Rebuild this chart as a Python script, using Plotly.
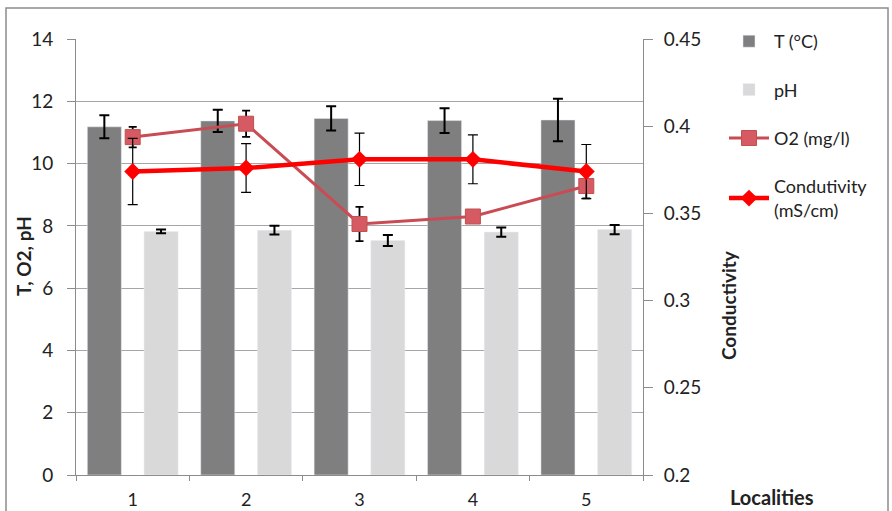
import plotly.graph_objects as go

localities = ["1", "2", "3", "4", "5"]
temp = [11.18, 11.37, 11.45, 11.38, 11.40]
temp_err = [0.37, 0.36, 0.39, 0.40, 0.68]
ph = [7.82, 7.86, 7.53, 7.80, 7.88]
ph_err = [0.06, 0.14, 0.18, 0.15, 0.15]
o2 = [10.85, 11.28, 8.06, 8.30, 9.28]
o2_err = [0.33, 0.42, 0.55, 0.12, 0.40]
cond = [0.374, 0.376, 0.381, 0.381, 0.374]
cond_err = [0.019, 0.014, 0.015, 0.014, 0.0155]

left_ticks = [0, 2, 4, 6, 8, 10, 12, 14]
right_ticks = [0.2, 0.25, 0.3, 0.35, 0.4, 0.45]

FONT = "Lato, 'Open Sans', sans-serif"
TXT = "#222222"
L, R, T, B = 76, 643, 39, 475
PW, PH = R - L, B - T

fig = go.Figure()
fig.add_trace(go.Bar(
    x=localities, y=temp, name="T (°C)", marker_color="#7f7f7f",
    error_y=dict(type="data", array=temp_err, color="black", thickness=2, width=5),
    legendgroup="a", offsetgroup="a"))
fig.add_trace(go.Bar(
    x=localities, y=ph, name="pH", marker_color="#d9d9d9",
    error_y=dict(type="data", array=ph_err, color="black", thickness=2, width=5),
    legendgroup="b", offsetgroup="b"))
fig.add_trace(go.Scatter(
    x=localities, y=o2, name="O2 (mg/l)", mode="lines+markers",
    line=dict(color="#c94c55", width=3),
    marker=dict(symbol="square", size=15, color="#d65a64", line=dict(color="#c0504d", width=1)),
    error_y=dict(type="data", array=o2_err, color="black", thickness=1.8, width=4),
    legendgroup="c"))
fig.add_trace(go.Scatter(
    x=localities, y=cond, name="Condutivity<br>(mS/cm)", mode="lines+markers", yaxis="y2",
    line=dict(color="#ff0000", width=4.5),
    marker=dict(symbol="diamond", size=13, color="#ff0000"),
    error_y=dict(type="data", array=cond_err, color="black", thickness=1.2, width=5),
    legendgroup="d"))

fig.update_layout(
    width=892, height=511,
    margin=dict(l=L, r=892 - R, t=T, b=511 - B),
    paper_bgcolor="white", plot_bgcolor="white",
    font=dict(family=FONT, size=18, color=TXT),
    barmode="group", bargap=0.0, bargroupgap=0.4,
    showlegend=True,
    legend=dict(x=(724 - L) / PW, y=(B - 23) / PH, xanchor="left", yanchor="top",
                tracegroupgap=22, font=dict(size=18, color=TXT),
                bgcolor="rgba(0,0,0,0)", itemwidth=40),
    xaxis=dict(type="category", showgrid=False, showline=True, linecolor="#8c8c8c",
               linewidth=1, ticks="outside", ticklen=5, tickcolor="#8c8c8c",
               tickson="boundaries", tickfont=dict(size=18, color=TXT),
               ticklabelstandoff=8, automargin=False),
    yaxis=dict(range=[0, 14], tickvals=left_ticks, showgrid=True, gridcolor="#a6a6a6",
               gridwidth=1, showline=True, linecolor="#8c8c8c", ticks="outside",
               ticklen=8, tickcolor="#8c8c8c", zeroline=False,
               tickfont=dict(size=19, color=TXT), ticklabelstandoff=10, automargin=False),
    yaxis2=dict(range=[0.2, 0.45], tickvals=right_ticks, overlaying="y", side="right",
                showgrid=False, showline=True, linecolor="#8c8c8c", ticks="outside",
                ticklen=9, tickcolor="#8c8c8c", zeroline=False,
                tickfont=dict(size=19, color=TXT), ticklabelstandoff=7, automargin=False),
)

fig.add_annotation(text="<b>T, O2, pH</b>", xref="paper", yref="paper",
                   x=(24 - L) / PW, y=(B - 256) / PH, showarrow=False, textangle=-90,
                   font=dict(size=19, color=TXT), xanchor="center", yanchor="middle")
fig.add_annotation(text="<b>Conductivity</b>", xref="paper", yref="paper",
                   x=(728 - L) / PW, y=(B - 305) / PH, showarrow=False, textangle=-90,
                   font=dict(size=19, color=TXT), xanchor="center", yanchor="middle")
fig.add_annotation(text="<b>Localities</b>", xref="paper", yref="paper",
                   x=(772 - L) / PW, y=(B - 497) / PH, showarrow=False,
                   font=dict(size=20, color=TXT), xanchor="center", yanchor="middle")

fig.add_shape(type="rect", xref="paper", yref="paper",
              x0=(6 - L) / PW, x1=(888 - L) / PW,
              y0=(B - 520) / PH, y1=(B - 8) / PH,
              line=dict(color="#8c8c8c", width=1.5), layer="below")

fig.write_html("out.html", config={"displayModeBar": False},
               post_script="document.body.style.margin='0';")
